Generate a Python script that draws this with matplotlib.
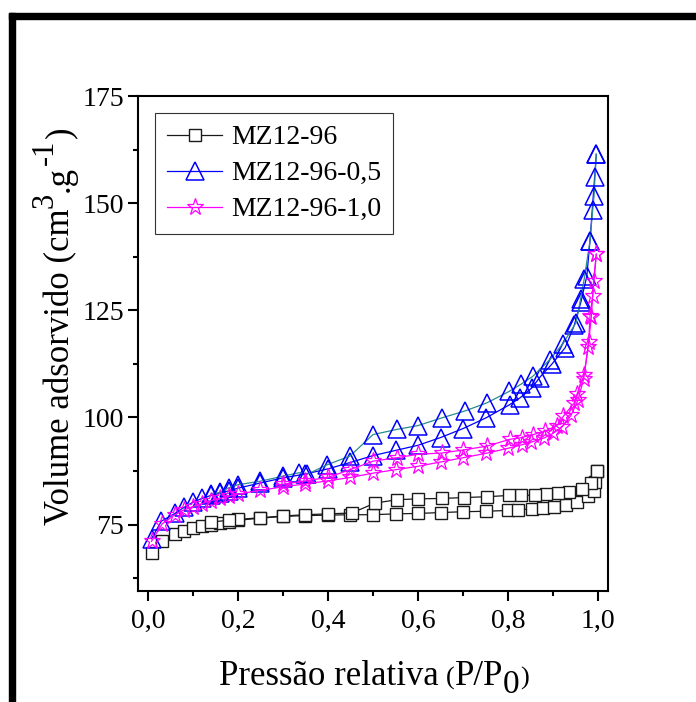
import matplotlib
matplotlib.use("Agg")
import matplotlib.pyplot as plt
from matplotlib.ticker import MultipleLocator, FuncFormatter
from matplotlib.patches import Rectangle
from matplotlib.transforms import IdentityTransform

plt.rcParams['font.family'] = ['Liberation Serif', 'DejaVu Serif']

# MZ12-96 (adsorption / desorption)
p_ads_a = [0.008, 0.032, 0.06, 0.08, 0.10, 0.12, 0.14, 0.16, 0.18, 0.20, 0.25, 0.30, 0.35,
           0.40, 0.45, 0.50, 0.55, 0.60, 0.65, 0.70, 0.75, 0.80, 0.822, 0.853, 0.878, 0.903,
           0.928, 0.953, 0.978, 0.991, 0.993, 0.998]
v_ads_a = [68.4, 71.2, 72.8, 73.5, 74.1, 74.6, 75.0, 75.4, 75.7, 76.0, 76.5, 76.9, 77.1,
           77.2, 77.3, 77.3, 77.5, 77.6, 77.8, 78.0, 78.1, 78.3, 78.4, 78.7, 78.9, 79.2,
           79.6, 80.3, 81.6, 82.8, 85.0, 87.5]
p_des_a = [0.998, 0.984, 0.964, 0.936, 0.91, 0.884, 0.86, 0.828, 0.803, 0.753, 0.702, 0.653,
           0.60, 0.553, 0.504, 0.453, 0.40, 0.35, 0.30, 0.25, 0.20, 0.18, 0.14]
v_des_a = [87.5, 84.7, 83.4, 82.7, 82.3, 82.1, 81.9, 81.8, 81.8, 81.5, 81.3, 81.1,
           81.0, 80.8, 80.0, 77.7, 77.5, 77.3, 77.0, 76.6, 76.2, 76.0, 75.6]

# MZ12-96-0,5
p_ads_b = [0.008, 0.03, 0.06, 0.08, 0.10, 0.12, 0.14, 0.16, 0.18, 0.20, 0.25, 0.30, 0.35,
           0.40, 0.45, 0.50, 0.55, 0.60, 0.65, 0.70, 0.751, 0.804, 0.827, 0.853, 0.87, 0.897,
           0.927, 0.947, 0.962, 0.975, 0.982, 0.996]
v_ads_b = [71.7, 75.8, 77.6, 79.0, 80.2, 81.1, 81.8, 82.3, 82.9, 83.5, 84.7, 85.9, 86.8,
           88.0, 89.5, 91.1, 92.3, 93.5, 95.3, 97.4, 99.9, 103.0, 104.6, 106.9, 109.3, 112.4,
           116.3, 121.5, 127.0, 133.0, 141.2, 161.4]
p_des_b = [0.996, 0.993, 0.991, 0.988, 0.982, 0.969, 0.961, 0.951, 0.921, 0.893, 0.855,
           0.828, 0.803, 0.753, 0.704, 0.653, 0.60, 0.553, 0.50, 0.449, 0.397, 0.353,
           0.336, 0.30, 0.249, 0.20, 0.18, 0.16, 0.14]
v_des_b = [161.4, 156.0, 151.7, 148.4, 141.2, 132.2, 127.6, 122.1, 117.1, 113.5, 109.6,
           107.7, 106.1, 103.4, 101.5, 99.9, 98.1, 97.2, 96.0, 91.0, 88.9, 86.7,
           87.1, 86.3, 85.1, 84.3, 83.6, 82.5, 82.2]

# MZ12-96-1,0
p_ads_c = [0.008, 0.032, 0.06, 0.08, 0.10, 0.12, 0.14, 0.16, 0.18, 0.20, 0.25, 0.30, 0.35,
           0.40, 0.45, 0.50, 0.55, 0.60, 0.65, 0.70, 0.75, 0.80, 0.83, 0.85, 0.88, 0.90,
           0.92, 0.94, 0.955, 0.968, 0.978, 0.985, 0.99, 0.996]
v_ads_c = [71.1, 75.2, 77.3, 78.4, 79.2, 79.9, 80.6, 81.1, 81.6, 82.1, 83.0, 83.8, 84.5,
           85.2, 86.0, 87.0, 87.8, 88.6, 89.6, 90.6, 91.6, 92.8, 93.6, 94.2, 95.2, 96.3,
           97.8, 100.5, 104.0, 109.0, 116.5, 123.5, 131.8, 138.1]
p_des_c = [0.996, 0.988, 0.982, 0.979, 0.969, 0.953, 0.947, 0.923, 0.908, 0.882, 0.856,
           0.83, 0.804, 0.753, 0.70, 0.653, 0.60, 0.553, 0.50, 0.449, 0.40, 0.35, 0.30]
v_des_c = [138.1, 128.3, 123.7, 117.5, 110.0, 105.4, 103.4, 100.3, 98.0, 96.8, 96.0,
           95.3, 94.9, 93.3, 92.4, 91.7, 91.4, 90.6, 89.8, 87.8, 86.0, 85.2, 84.4]

labels = ['MZ12-96', 'MZ12-96-0,5', 'MZ12-96-1,0']
x_ticks = [0.0, 0.2, 0.4, 0.6, 0.8, 1.0]
y_ticks = [75, 100, 125, 150, 175]

W, H = 696, 702
fig = plt.figure(figsize=(W / 100, H / 100), dpi=100)
ax = fig.add_axes([138 / W, 1 - 591 / H, (608 - 138) / W, (591 - 96) / H])

# page frame (top and left heavy rule)
fig.patches.append(Rectangle((9 / W, 0), 6 / W, 1 - 13 / H, transform=fig.transFigure,
                             color='black', zorder=0))
fig.patches.append(Rectangle((9 / W, 1 - 19 / H), 1, 6 / H, transform=fig.transFigure,
                             color='black', zorder=0))

sq = dict(marker='s', ms=8.3, mfc='white', mec='#1a1a1a', mew=1.0, color='#1a1a1a', lw=0.9)
tr = dict(marker='^', ms=12.5, mfc='none', mec='#0000ff', mew=1.1, lw=0.9)
st = dict(marker='*', ms=12.5, mfc='none', mec='#ff00ff', mew=0.9, color='#ff00ff', lw=0.9)

ax.plot(p_ads_a, v_ads_a, label=labels[0], **sq)
ax.plot(p_des_a, v_des_a, **sq)
ax.plot(p_ads_b, v_ads_b, color='#0000ff', label=labels[1], **tr)
ax.plot(p_des_b, v_des_b, color='#2a8c8c', **tr)
ax.plot(p_ads_c, v_ads_c, label=labels[2], **st)
ax.plot(p_des_c, v_des_c, **st)

ax.set_xlim(-0.022, 1.022)
ax.set_ylim(59.5, 175)
ax.set_xticks(x_ticks)
ax.set_yticks(y_ticks)
ax.xaxis.set_minor_locator(MultipleLocator(0.1))
ax.yaxis.set_minor_locator(MultipleLocator(12.5))
ax.xaxis.set_major_formatter(FuncFormatter(lambda v, p: f'{v:.1f}'.replace('.', ',')))
ax.tick_params(which='major', direction='out', length=7, width=1.5, labelsize=20,
               top=False, right=False)
ax.tick_params(axis='x', which='major', pad=6)
ax.tick_params(axis='y', which='major', pad=3)
ax.tick_params(which='minor', direction='out', length=3.5, width=1.5, top=False, right=False)
for s in ax.spines.values():
    s.set_linewidth(1.5)

leg = ax.legend(loc='upper left', fontsize=20, frameon=True, fancybox=False,
                edgecolor='#333333', framealpha=1, handlelength=2.0, handletextpad=0.3,
                labelspacing=0.38, borderpad=0.42, borderaxespad=0.62)
leg.get_frame().set_linewidth(0.8)

# axis titles built from pieces so super/subscripts keep a large size
fig.canvas.draw()
renderer = fig.canvas.get_renderer()


def text_width(s, size):
    t = fig.text(0, 0, s, fontsize=size)
    w = t.get_window_extent(renderer).width
    t.remove()
    return w


def chain(pieces, center, base, vertical=False):
    # pieces: (text, fontsize, shift_px, gap_px)
    widths = [text_width(s, fs) for s, fs, _, _ in pieces]
    total = sum(widths) + sum(g for _, _, _, g in pieces)
    pos = center - total / 2
    for (s, fs, shift, gap), w in zip(pieces, widths):
        pos += gap
        if vertical:
            fig.text(base - shift, pos, s, fontsize=fs, rotation=90, rotation_mode='anchor',
                     ha='left', va='baseline', transform=IdentityTransform())
        else:
            fig.text(pos, base + shift, s, fontsize=fs, ha='left', va='baseline',
                     transform=IdentityTransform())
        pos += w


xlabel_parts = [('Pressão relativa', 25, 0, 0), ('(', 19, 0, 7), ('P/P', 25, 0, 0),
                ('0', 24, -8, 0), (')', 19, 0, 0)]
ylabel_parts = [('Volume adsorvido (cm', 25, 0, 0), ('3', 22, 16, 1), ('.g', 25, 0, 1),
                ('-1', 22, 16, 1), (')', 25, 0, 1)]
chain(xlabel_parts, center=374, base=H - 685)
chain(ylabel_parts, center=H - 326, base=69, vertical=True)

fig.savefig('out.png', dpi=100)
